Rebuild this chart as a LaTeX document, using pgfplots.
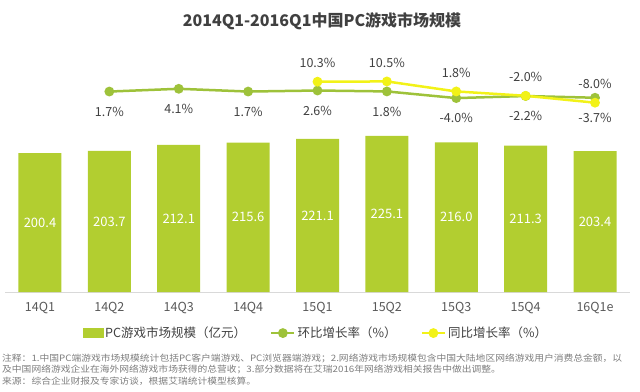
\documentclass[border=0pt]{standalone}
\usepackage{pgfplots}
\pgfplotsset{compat=1.18}
\usepackage{pgfplotstable}
\usepackage{graphicx}
\usepackage{fontspec}
\setmainfont{Noto Sans CJK SC}

\definecolor{barG}{RGB}{178,206,48}
\definecolor{lineG}{RGB}{158,194,58}
\definecolor{lineY}{RGB}{242,242,24}
\definecolor{txt}{RGB}{64,64,64}
\definecolor{tickc}{RGB}{89,89,89}
\definecolor{note}{RGB}{125,125,125}

\pgfplotstableread{
x v half lab
0 200.4 100.2 200.4
1 203.7 101.85 203.7
2 212.1 106.05 212.1
3 215.6 107.8 215.6
4 221.1 110.55 221.1
5 225.1 112.55 225.1
6 216.0 108.0 216.0
7 211.3 105.65 211.3
8 203.4 101.7 203.4
}\bars

\pgfplotstableread{
x v
1 1.7
2 4.1
3 1.7
4 2.6
5 1.8
6 -4.0
7 -2.2
8 -3.7
}\qoq

\pgfplotstableread{
x v
4 10.3
5 10.5
6 1.8
7 -2.0
8 -8.0
}\yoy

\begin{document}
\begin{tikzpicture}
\useasboundingbox (0,0) rectangle (640pt,391pt);
\begin{axis}[
  at={(5.3pt,99pt)}, anchor=south west,
  width=624.4pt, height=252pt, scale only axis,
  xmin=-0.5, xmax=8.5, ymin=0, ymax=363.6,
  axis x line*=bottom, axis y line=none,
  x axis line style={-, draw=black!15, line width=0.9pt},
  xtick={0,...,8},
  xticklabels={14Q1,14Q2,14Q3,14Q4,15Q1,15Q2,15Q3,15Q4,16Q1e},
  major tick length=0pt, tick style={draw=none},
  xticklabel style={font=\fontsize{12.5}{14}\selectfont, text=tickc, yshift=-7pt},
  clip=false,
]
\addplot[ybar, bar width=43pt, fill=barG, draw=none] table[x=x,y=v]{\bars};
\addplot[draw=none, mark=none, nodes near coords, point meta=explicit symbolic,
  every node near coord/.style={anchor=center, font=\fontsize{13}{15}\selectfont, text=white}]
  table[x=x,y=half,meta=lab]{\bars};
\end{axis}
\begin{axis}[
  at={(5.3pt,99pt)}, anchor=south west,
  width=624.4pt, height=252pt, scale only axis,
  xmin=-0.5, xmax=8.5, ymin=-172.9, ymax=46.6,
  hide axis, clip=false,
  legend columns=3,
  legend style={draw=none, fill=none, at={(0.4976,-0.163)}, anchor=center,
    font=\fontsize{12.5}{14}\selectfont, text=txt,
    nodes={inner xsep=2pt},
    /tikz/every even column/.append style={column sep=22pt}},
]
\addlegendimage{legend image code/.code={\fill[barG] (0pt,-4.5pt) rectangle (20pt,4.5pt);}}
\addlegendentry{PC游戏市场规模（亿元）}
\addplot[lineG, line width=2.5pt, mark=*, mark size=3.6pt, mark options={fill=lineG, draw=lineG},
  nodes near coords={\pgfplotspointmeta\%}, point meta=explicit symbolic,
  every node near coord/.style={anchor=center, yshift=-20pt, font=\fontsize{12.5}{14}\selectfont, text=txt},
  legend image code/.code={\draw[mark repeat=2,mark phase=2,line width=2.5pt] plot coordinates {(0pt,0pt) (11.5pt,0pt) (23pt,0pt)};}]
  table[x=x,y=v,meta=v]{\qoq};
\addlegendentry{环比增长率（\%）}
\addplot[lineY, line width=2.5pt, mark=*, mark size=3.6pt, mark options={fill=lineY, draw=lineY},
  nodes near coords={\pgfplotspointmeta\%}, point meta=explicit symbolic,
  every node near coord/.style={anchor=center, yshift=19pt, font=\fontsize{12.5}{14}\selectfont, text=txt},
  legend image code/.code={\draw[mark repeat=2,mark phase=2,line width=2.5pt] plot coordinates {(0pt,0pt) (11.5pt,0pt) (23pt,0pt)};}]
  table[x=x,y=v,meta=v]{\yoy};
\addlegendentry{同比增长率（\%）}
\end{axis}
\node[font=\bfseries\fontsize{16}{19}\selectfont, text=txt] at (322pt,370pt) {2014Q1-2016Q1中国PC游戏市场规模};
\node[anchor=west, inner sep=0pt, text=note, font=\fontsize{8.8}{10}\selectfont] at (2pt,33pt)
  {\scalebox{1.11}[1]{注释：1.中国PC端游戏市场规模统计包括PC客户端游戏、PC浏览器端游戏；2.网络游戏市场规模包含中国大陆地区网络游戏用户消费总金额，以}};
\node[anchor=west, inner sep=0pt, text=note, font=\fontsize{8.8}{10}\selectfont] at (2pt,21.5pt)
  {\scalebox{1.11}[1]{及中国网络游戏企业在海外网络游戏市场获得的总营收；3.部分数据将在艾瑞2016年网络游戏相关报告中做出调整。}};
\node[anchor=west, inner sep=0pt, text=note, font=\fontsize{8.8}{10}\selectfont] at (2pt,10pt)
  {\scalebox{1.11}[1]{来源：综合企业财报及专家访谈，根据艾瑞统计模型核算。}};
\end{tikzpicture}
\end{document}
